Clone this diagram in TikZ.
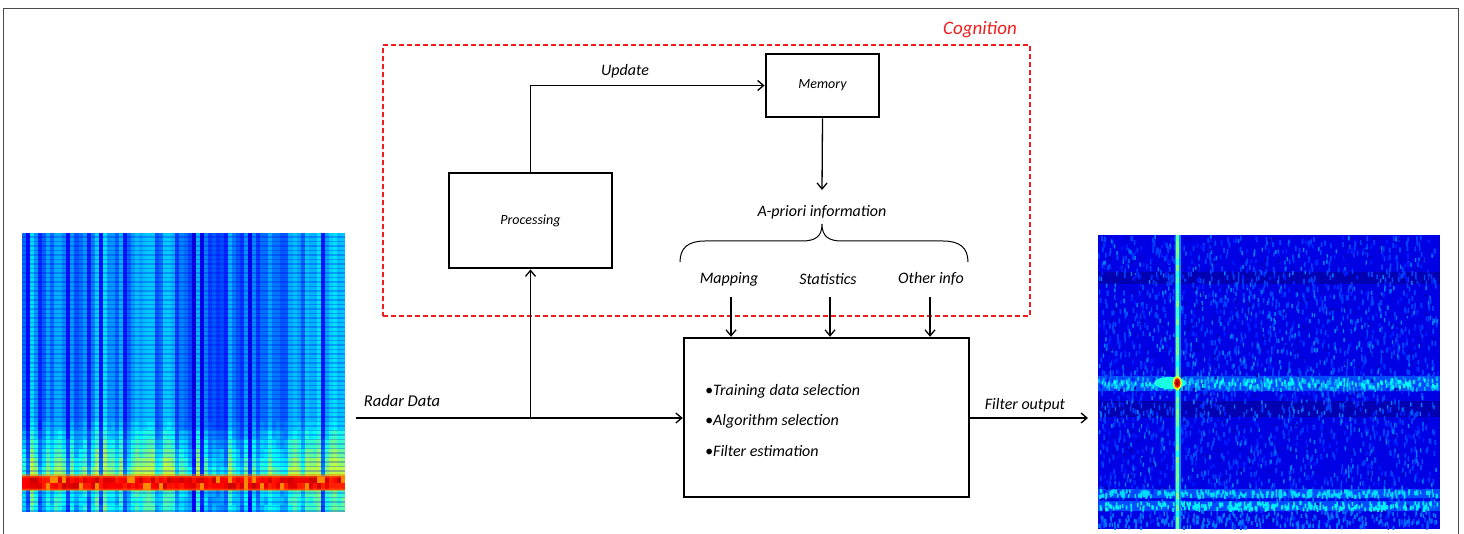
\documentclass[tikz,border=0pt]{standalone}
\usepackage{fontspec}
\setmainfont{Carlito}
\usetikzlibrary{arrows.meta}
\newcommand\jetc[1]{%
 \pgfmathsetmacro\jr{min(1,max(0,1.5-abs(4*(#1)-3)))}%
 \pgfmathsetmacro\jg{min(1,max(0,1.5-abs(4*(#1)-2)))}%
 \pgfmathsetmacro\jb{min(1,max(0,1.5-abs(4*(#1)-1)))}%
 \definecolor{hc}{rgb}{\jr,\jg,\jb}}
\definecolor{cogred}{RGB}{240,30,30}
\tikzset{
 box/.style={draw, line width=2.8pt, font=\fontsize{14}{17}\selectfont\itshape},
 lbl/.style={font=\fontsize{16}{19}\selectfont\itshape, inner sep=1pt},
 arr/.style={line width=1.3pt, -{Straight Barb[length=6pt,width=10pt,line width=1.3pt]}},
}
\newcommand\speck[5]{% value, count, y0, yrange, w/h
  \jetc{#1}%
  \fill[hc] \foreach \k [evaluate=\k as \sx using {1098+339*rnd}, evaluate=\k as \sy using {#3+#4*rnd}] in {1,...,#2}{ (\sx,\sy) rectangle ++(#5) };}
\begin{document}
\begin{tikzpicture}[x=1pt,y=-1pt]
\useasboundingbox (0,0) rectangle (1464,534);
\fill[white] (0,0) rectangle (1464,534);
% frame
\draw[gray!60!black, line width=1pt] (3,534) -- (3,9) -- (1458,9) -- (1458,534);

% ---------- left heatmap ----------
\pgfmathsetseed{7}
\foreach \i in {0,...,79}{
  \pgfmathsetmacro\cx{22+\i*4.0375}
  \pgfmathsetmacro\ci{ifthenelse(rnd<0.16,0.1+0.04*rnd,0.18+0.15*rnd)+ifthenelse(\cx<130||\cx>290,0.03,0)-ifthenelse(\cx>180&&\cx<290,0.02,0)}
  \jetc{\ci}
  \fill[hc] (\cx,233) rectangle ++(4.3,188);
  \foreach \j in {0,...,5}{
    \pgfmathsetmacro\cy{421+\j*9.17}
    \pgfmathsetmacro\v{min(0.56,\ci*(1+0.15*(\j+0.5))+0.02*rand)}
    \jetc{\v}
    \fill[hc] (\cx,\cy) rectangle ++(4.3,9.5);
  }
  \foreach \j in {0,1}{
    \pgfmathsetmacro\cy{476+\j*7}
    \pgfmathsetmacro\v{ifthenelse(rnd<0.15,0.74,0.84+0.09*rnd)}
    \jetc{\v}
    \fill[hc] (\cx,\cy) rectangle ++(4.3,7.3);
  }
  \foreach \j in {0,...,2}{
    \pgfmathsetmacro\cy{490+\j*7.33}
    \pgfmathsetmacro\v{\ci*1.4+0.03*rand}
    \jetc{\v}
    \fill[hc] (\cx,\cy) rectangle ++(4.3,7.6);
  }
}
\jetc{0.76}
\fill[hc, opacity=0.5] (22,474) rectangle (345,477.5) (22,488.5) rectangle (345,491);
\jetc{0.1}
\draw[hc, opacity=0.28, line width=1.5pt] \foreach \k in {0,...,52}{ (22,237+\k*4.5) -- (345,237+\k*4.5) };
\draw[hc, opacity=0.28, line width=1.5pt] \foreach \k in {0,...,4}{ (22,493+\k*4.5) -- (345,493+\k*4.5) };

% ---------- right heatmap ----------
\pgfmathsetseed{11}
\jetc{0.1}\fill[hc] (1098,235) rectangle (1440,529);
\jetc{0.05}\fill[hc] (1098,272) rectangle (1440,284) (1098,401) rectangle (1440,417);
\jetc{0.2}\fill[hc] (1098,376) rectangle (1440,391) (1098,489) rectangle (1440,498) (1098,501) rectangle (1440,511);
\speck{0.19}{1600}{235}{290}{1.6,5}
\speck{0.25}{600}{235}{290}{1.4,4}
\speck{0.15}{600}{235}{290}{2,4}
\speck{0.06}{300}{235}{290}{2.2,3}
\speck{0.30}{300}{376}{12}{1.6,4}
\speck{0.37}{120}{378}{8}{1.6,4}
\speck{0.34}{260}{489}{6}{1.6,4}
\speck{0.36}{260}{501}{7}{1.6,4}
\speck{0.24}{200}{510}{16}{1.6,4}
\jetc{0.4}\fill[hc] (1170,383) ellipse (16 and 6);
\jetc{0.26}\fill[hc] (1174.5,235) rectangle (1180.5,529);
\foreach \j in {0,...,48}{
  \pgfmathsetmacro\cy{235+\j*6}
  \pgfmathsetmacro\v{0.38+0.14*rnd}
  \jetc{\v}
  \fill[hc] (1176.3,\cy) rectangle ++(2.2,6.2);
}
\jetc{0.6}\fill[hc] (1177.3,383) ellipse (4.5 and 7);
\jetc{0.85}\fill[hc] (1177.3,383) ellipse (3.2 and 5);
\jetc{0.97}\fill[hc] (1177.3,383) ellipse (1.8 and 2.8);
\fill[white] (1440,230) rectangle (1456,534);

% ---------- cognition box ----------
\node[draw=cogred, dash pattern=on 5pt off 3pt, line width=1.2pt, minimum width=647pt, minimum height=271pt, inner sep=0pt] (cog) at (706.5,180.5) {};
\node[font=\fontsize{19}{22}\selectfont\itshape, text=cogred, inner sep=0pt] (cogl) at (980,30) {Cognition};

% ---------- blocks ----------
\node[box, minimum width=113pt, minimum height=63pt, inner sep=0pt] (mem) at (822.5,85.5) {Memory};
\node[box, minimum width=163pt, minimum height=95pt, inner sep=0pt] (proc) at (530.5,220.5) {Processing};
\node[draw, line width=2.4pt, minimum width=285pt, minimum height=159pt, inner sep=0pt] (main) at (826.5,417.5) {};

\node[lbl] (upd) at (625,71) {Update};
\node[lbl] (apr) at (822,212) {A-priori information};
\node[lbl] (map) at (729,279) {Mapping};
\node[lbl] (sta) at (828,279) {Statistics};
\node[lbl] (oth) at (931,279) {Other info};

\node[lbl, anchor=west] (t1) at (704,391) {•Training data selection};
\node[lbl, anchor=west] (t2) at (704,421) {•Algorithm selection};
\node[lbl, anchor=west] (t3) at (704,451) {•Filter estimation};

\node[lbl, font=\fontsize{16.5}{19}\selectfont\itshape] (rdl) at (402,401) {Radar Data};
\node[lbl] (fol) at (1025,405) {Filter output};

\coordinate (rin) at (356,418);
\coordinate (split) at (530.5,418);
\coordinate (fout) at (1088,418);
\coordinate (ma) at (731,297);
\coordinate (sa) at (830,297);
\coordinate (oa) at (930,297);

% brace
\draw[line width=1pt] (680,262) .. controls (680,248) and (688,241) .. (705,241) -- (802,241) .. controls (816,241) and (822,236) .. (822,224) .. controls (822,236) and (828,241) .. (842,241) -- (943,241) .. controls (960,241) and (968,248) .. (968,262);

% connectors
\draw[arr] (rin) -- (main.west |- rin);
\draw[arr] (split) -- (proc.south);
\draw[arr] (proc.north) |- (mem.west);
\draw[arr] (mem.south) -- ([yshift=14pt]apr.north);
\draw[arr] (ma) -- (ma |- main.north);
\draw[arr] (sa) -- (sa |- main.north);
\draw[arr] (oa) -- (oa |- main.north);
\draw[arr] (main.east |- fout) -- (fout);
\end{tikzpicture}
\end{document}
